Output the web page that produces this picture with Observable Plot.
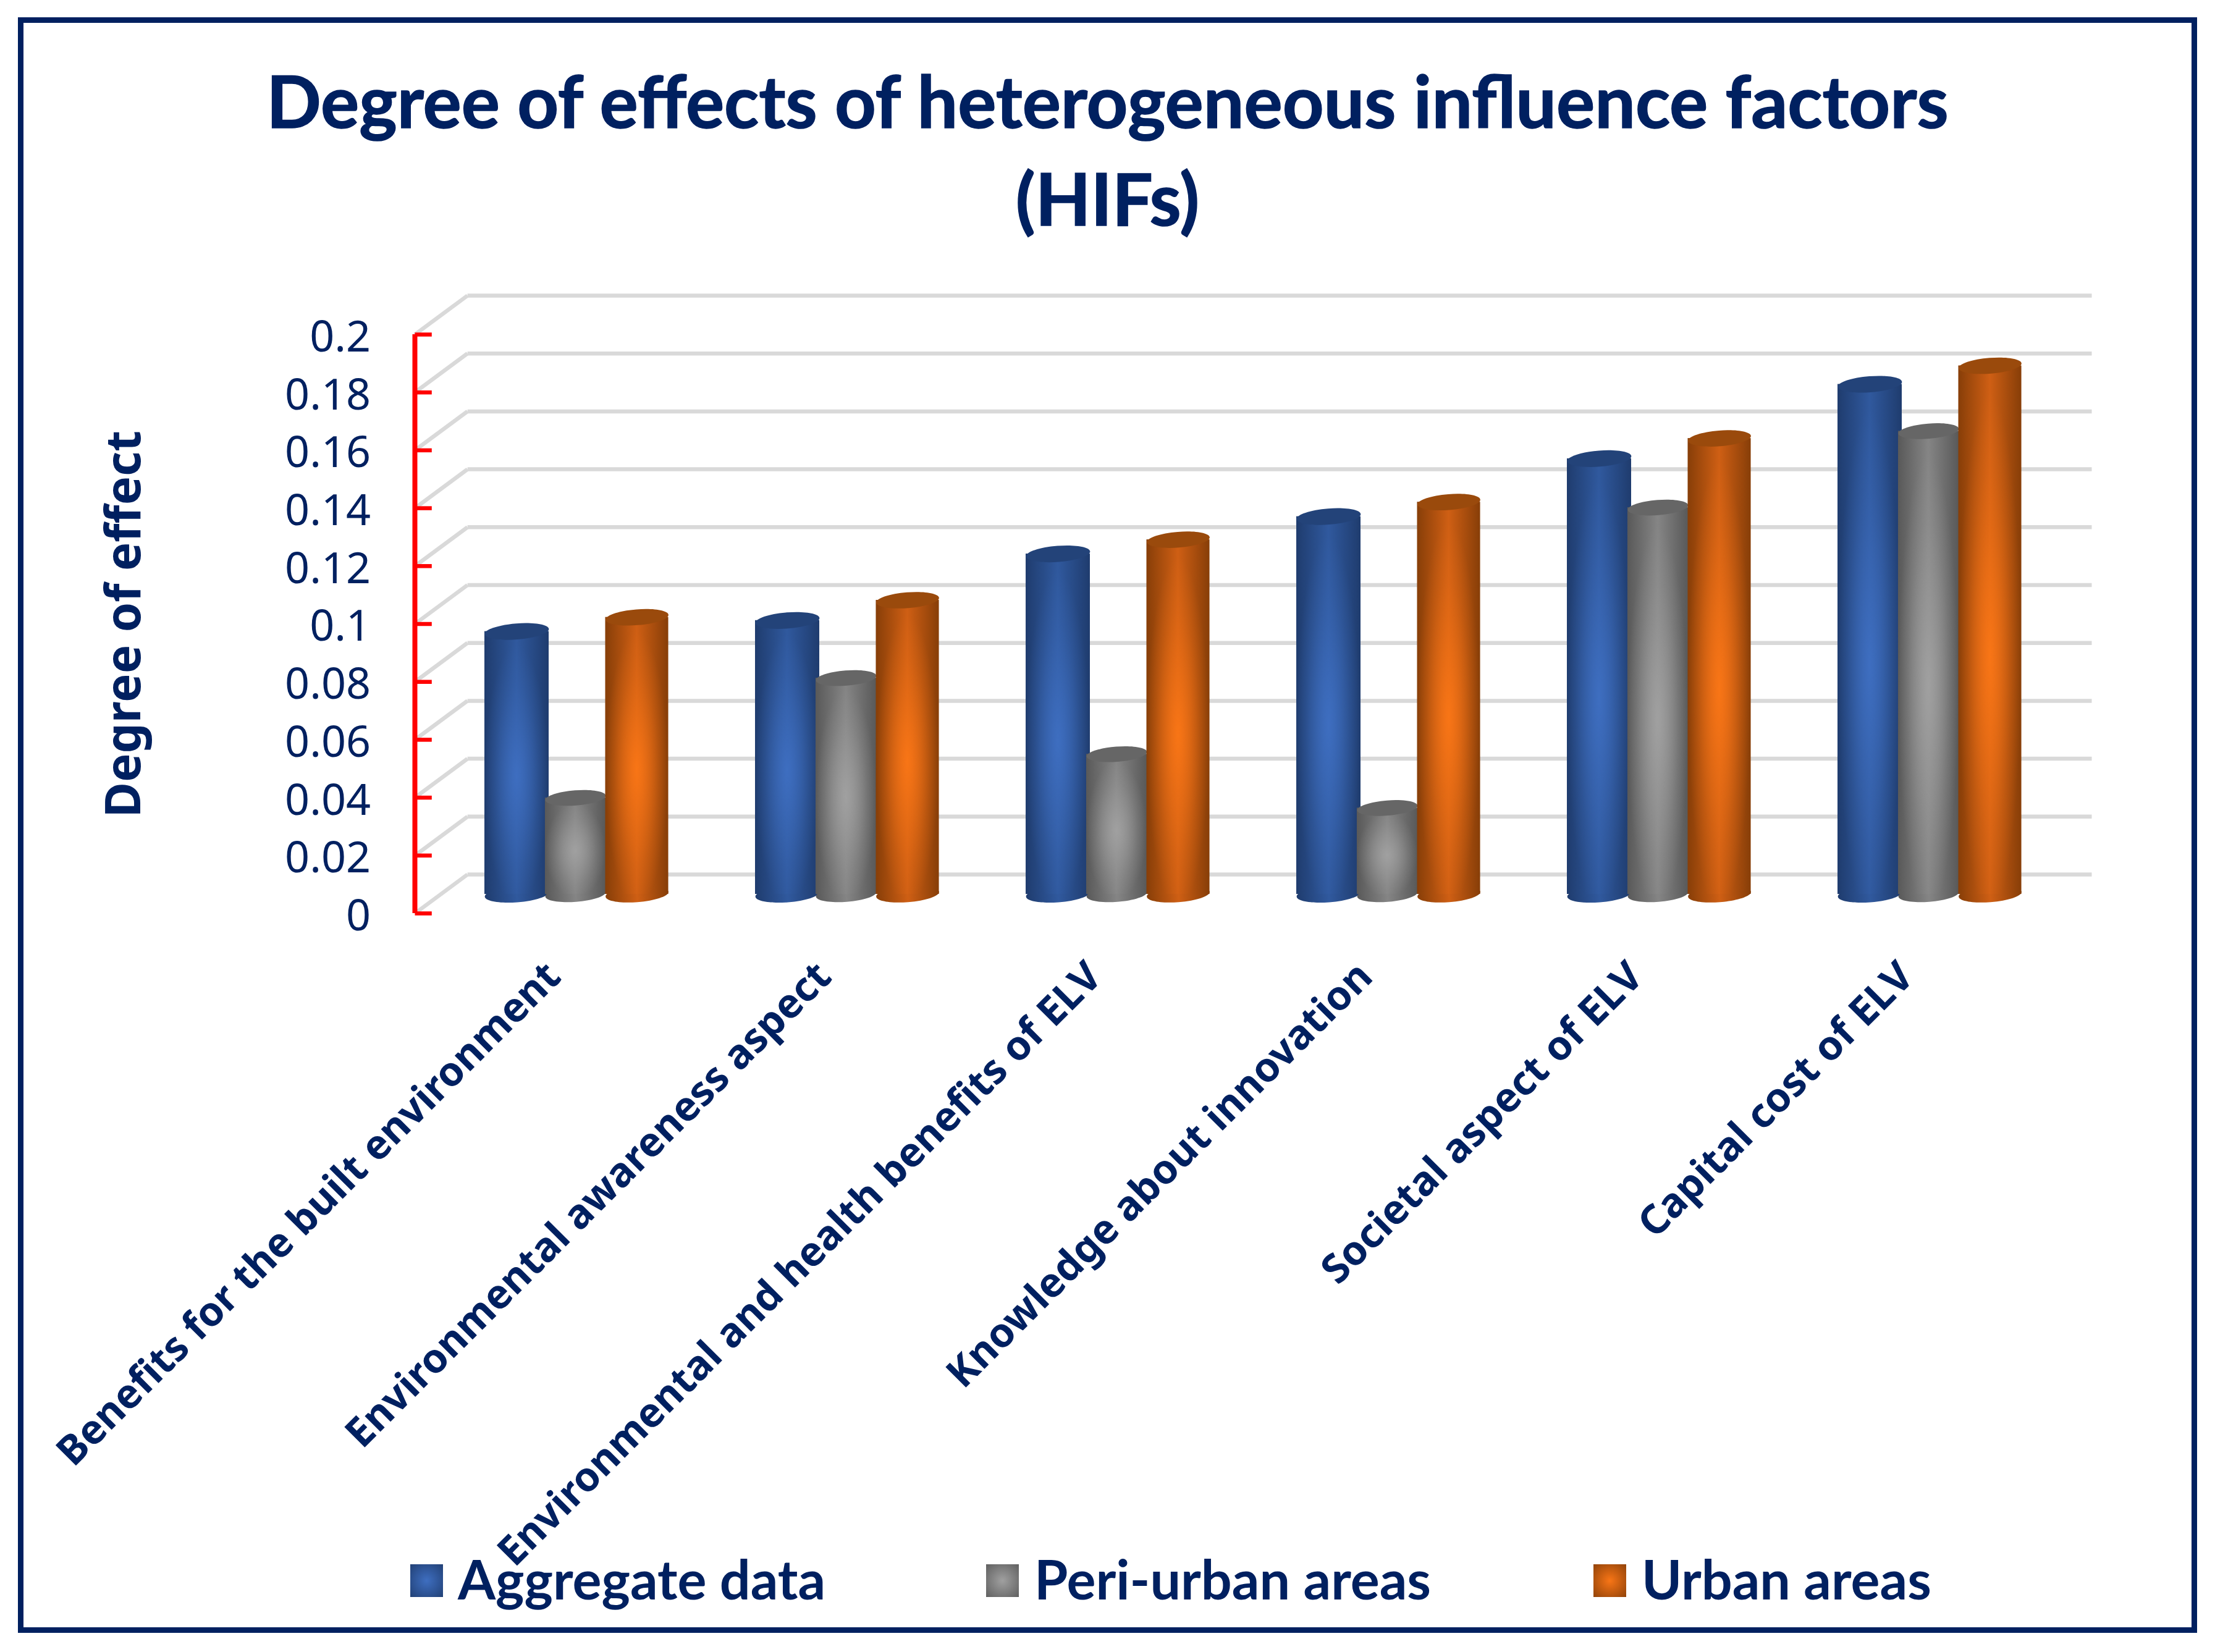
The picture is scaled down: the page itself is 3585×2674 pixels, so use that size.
<!DOCTYPE html>
<html>
<head>
<meta charset="utf-8">
<script src="https://cdn.jsdelivr.net/npm/d3@7"></script>
<script src="https://cdn.jsdelivr.net/npm/@observablehq/plot@0.6"></script>
<style>
html,body{margin:0;padding:0;background:#fff;width:3585px;height:2674px;overflow:hidden}
#frame{position:absolute;left:29px;top:28px;width:3527px;height:2615px;box-sizing:border-box;border:9px solid #002060;pointer-events:none}
#title{position:absolute;left:0;top:83px;width:3585px;text-align:center;font:700 116.5px/158px Lato,sans-serif;color:#002060;-webkit-text-stroke:1.5px #002060}
#chart{position:absolute;left:0;top:400px}
#legend{position:absolute;left:0;top:2497px;width:3585px;height:110px;font:700 88px/100px Lato,sans-serif;color:#002060}
#legend span{position:absolute;white-space:nowrap}
#legend i{position:absolute;width:53px;height:53px;top:35px}
svg{display:block}
</style>
</head>
<body>
<div id="title">Degree of effects of heterogeneous influence factors<br>(HIFs)</div>
<div id="chart"></div>
<div id="legend"></div>
<div id="frame"></div>
<script>
const categories = ["Benefits for the built environment","Environmental awareness aspect","Environmental and health benefits of ELV","Knowledge about innovation","Societal aspect of ELV","Capital cost of ELV"];
const seriesNames = ["Aggregate data","Peri-urban areas","Urban areas"];
const aggregate = [0.0908,0.0946,0.1176,0.1305,0.1505,0.1762];
const periUrban = [0.0333,0.0747,0.0484,0.0298,0.1336,0.16];
const urban = [0.0957,0.1016,0.1225,0.1355,0.1575,0.1826];
const yTicks = [0,0.02,0.04,0.06,0.08,0.1,0.12,0.14,0.16,0.18,0.2];

const navy = "#002060";
const grid = "#d9d9d9";
const styles = [
  {values:aggregate,id:"b",off:-0.2226,hw:0.1187,r:52,edge:"#1f3c6e",mid:"#30599e",hi:"#3e6ec0",top:"#234379"},
  {values:periUrban,id:"g",off:-0.0057,hw:0.112,r:49,edge:"#595959",mid:"#858585",hi:"#a0a0a0",top:"#666666"},
  {values:urban,id:"o",off:0.2215,hw:0.1165,r:51,edge:"#873e08",mid:"#cf5f14",hi:"#f87516",top:"#9a4a0c"}
];
const depthX = [-0.5993,-0.405], backEnd = 5.597, depthY = 0.01345, tickEnd = -0.537;
const liftPx = -31;

const ellipse = {draw(ctx,size){
  const rx=Math.sqrt(size/Math.PI), ry=rx/4, kx=rx*0.5523, ky=ry*0.5523;
  ctx.moveTo(-rx,0);
  ctx.bezierCurveTo(-rx,-ky,-kx,-ry,0,-ry);
  ctx.bezierCurveTo(kx,-ry,rx,-ky,rx,0);
  ctx.bezierCurveTo(rx,ky,kx,ry,0,ry);
  ctx.bezierCurveTo(-kx,ry,-rx,ky,-rx,0);
  ctx.closePath();
}};

function defs(){
  const ns="http://www.w3.org/2000/svg";
  const d=document.createElementNS(ns,"defs");
  let h="";
  for(const s of styles){
    h+=`<linearGradient id="lin-${s.id}" x1="0" x2="1" y1="0" y2="0"><stop offset="0" stop-color="${s.edge}"/><stop offset="0.5" stop-color="${s.mid}"/><stop offset="1" stop-color="${s.edge}"/></linearGradient>`;
    h+=`<radialGradient id="rad-${s.id}" cx="0.5" cy="0.55" r="0.5"><stop offset="0" stop-color="${s.hi}" stop-opacity="1"/><stop offset="0.7" stop-color="${s.hi}" stop-opacity="0.25"/><stop offset="1" stop-color="${s.hi}" stop-opacity="0"/></radialGradient>`;
  }
  d.innerHTML=h;
  return d;
}

const cylinders = styles.flatMap(s=>{
  const rows = s.values.map((v,i)=>({i,v}));
  const rect = fill => Plot.rectY(rows,{x1:d=>d.i+s.off-s.hw,x2:d=>d.i+s.off+s.hw,y1:0,y2:"v",dy:liftPx,fill});
  return [
    Plot.dot(rows,{x:d=>d.i+s.off,y:0,dy:liftPx,r:s.r,symbol:ellipse,rotate:-4.5,fill:`url(#lin-${s.id})`,stroke:"none"}),
    rect(`url(#lin-${s.id})`),
    rect(`url(#rad-${s.id})`),
    Plot.dot(rows,{x:d=>d.i+s.off,y:"v",dy:liftPx,r:s.r,symbol:ellipse,rotate:-4.5,fill:s.top,stroke:"none"})
  ];
});

const plot = Plot.plot({
  width:3585,height:2130,
  marginLeft:714.5,marginRight:242.5,marginTop:141,marginBottom:1052,
  style:{background:"transparent",overflow:"visible"},
  x:{domain:[-0.5,5.5],axis:null},
  y:{domain:[0,0.2],axis:null},
  marks:[
    defs,
    Plot.link(yTicks,{x1:depthX[1],x2:backEnd,y1:d=>d+depthY,y2:d=>d+depthY,stroke:grid,strokeWidth:6.5}),
    Plot.link(yTicks,{x1:depthX[0],x2:depthX[1],y1:d=>d,y2:d=>d+depthY,stroke:grid,strokeWidth:6.5}),
    ...cylinders,
    Plot.ruleX([depthX[0]],{y1:0,y2:0.2,stroke:"#ff0000",strokeWidth:8}),
    Plot.link(yTicks,{x1:depthX[0],x2:tickEnd,y1:d=>d,y2:d=>d,stroke:"#ff0000",strokeWidth:6.5}),
    Plot.axisY({ticks:yTicks,anchor:"left",tickSize:0,tickPadding:115,tickFormat:d=>String(d),fontSize:70,fill:navy,label:null,dy:5}),
    Plot.axisX({ticks:[0,1,2,3,4,5],anchor:"bottom",tickSize:0,tickPadding:91,tickRotate:-45,tickFormat:i=>categories[i],fontSize:65.5,fontWeight:700,fill:navy,label:null,dx:-38}),
    Plot.text(["Degree of effect"],{y:[0.1],frameAnchor:"left",textAnchor:"middle",dx:-513,rotate:-90,fontSize:78,fontWeight:700,fill:navy})
  ]
});
document.getElementById("chart").appendChild(plot);

const legendPos = [{sw:664,tx:741},{sw:1596,tx:1674},{sw:2579,tx:2657}];
const lg = document.getElementById("legend");
seriesNames.forEach((name,k)=>{
  const s=styles[k], p=legendPos[k];
  const sw=document.createElement("i");
  sw.style.left=p.sw+"px";
  sw.style.background=`radial-gradient(circle at 50% 50%, ${s.hi}, ${s.edge} 110%)`;
  lg.appendChild(sw);
  const t=document.createElement("span");
  t.textContent=name; t.style.left=p.tx+"px"; t.style.top="8px";
  lg.appendChild(t);
});
</script>
</body>
</html>
